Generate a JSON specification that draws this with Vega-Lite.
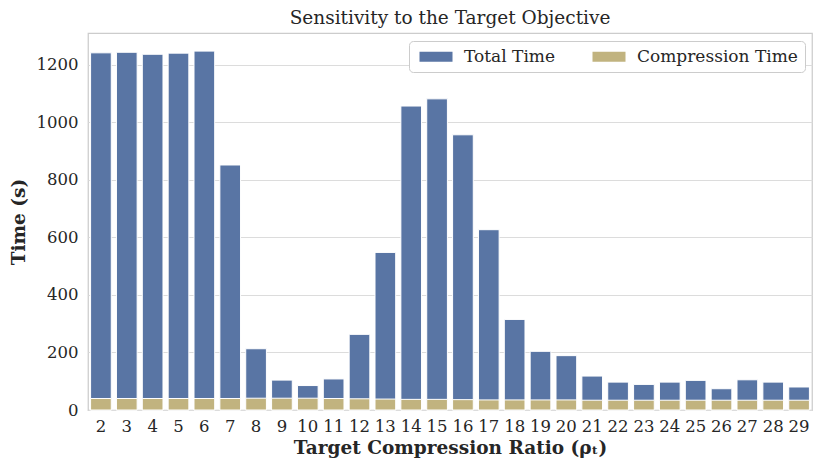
{
  "$schema": "https://vega.github.io/schema/vega-lite/v6.json",
  "width": 724,
  "height": 377,
  "autosize": "none",
  "padding": {"left": 88, "top": 33, "right": 18, "bottom": 65},
  "background": "white",
  "title": {"text": "Sensitivity to the Target Objective", "font": "DejaVu Serif", "fontSize": 18.5, "fontWeight": "normal", "color": "#262626", "offset": 6},
  "config": {
    "view": {"stroke": "#cccccc", "strokeWidth": 1.25},
    "font": "DejaVu Serif",
    "axis": {"labelFont": "DejaVu Serif", "labelFontSize": 16.5, "labelColor": "#262626", "titleFont": "DejaVu Serif", "titleFontSize": 18.5, "titleFontWeight": "bold", "titleColor": "#262626", "domain": false, "ticks": false, "gridColor": "#dcdcdc", "gridWidth": 1.1},
    "legend": {"labelFont": "DejaVu Serif", "labelFontSize": 17, "labelColor": "#262626", "labelLimit": 400}
  },
  "data": {"values": [
    {"ratio": 2, "total": 1242, "comp": 40},
    {"ratio": 3, "total": 1244, "comp": 40},
    {"ratio": 4, "total": 1237, "comp": 40},
    {"ratio": 5, "total": 1241, "comp": 40},
    {"ratio": 6, "total": 1248, "comp": 40},
    {"ratio": 7, "total": 852, "comp": 40},
    {"ratio": 8, "total": 213, "comp": 41},
    {"ratio": 9, "total": 104, "comp": 41},
    {"ratio": 10, "total": 85, "comp": 41},
    {"ratio": 11, "total": 108, "comp": 40},
    {"ratio": 12, "total": 263, "comp": 39},
    {"ratio": 13, "total": 548, "comp": 38},
    {"ratio": 14, "total": 1057, "comp": 37},
    {"ratio": 15, "total": 1082, "comp": 37},
    {"ratio": 16, "total": 957, "comp": 36},
    {"ratio": 17, "total": 627, "comp": 35},
    {"ratio": 18, "total": 315, "comp": 35},
    {"ratio": 19, "total": 204, "comp": 35},
    {"ratio": 20, "total": 189, "comp": 35},
    {"ratio": 21, "total": 118, "comp": 34},
    {"ratio": 22, "total": 97, "comp": 34},
    {"ratio": 23, "total": 89, "comp": 34},
    {"ratio": 24, "total": 97, "comp": 34},
    {"ratio": 25, "total": 103, "comp": 34},
    {"ratio": 26, "total": 74, "comp": 34},
    {"ratio": 27, "total": 105, "comp": 34},
    {"ratio": 28, "total": 97, "comp": 34},
    {"ratio": 29, "total": 80, "comp": 34}
  ]},
  "transform": [
    {"fold": ["total", "comp"], "as": ["key", "time"]},
    {"calculate": "datum.key === 'total' ? 'Total Time' : 'Compression Time'", "as": "series"}
  ],
  "layer": [
    {
      "transform": [{"filter": "datum.key === 'total'"}],
      "mark": {"type": "bar", "stroke": "white", "strokeWidth": 1},
      "encoding": {
        "x": {"field": "ratio", "type": "ordinal", "scale": {"paddingInner": 0.2, "paddingOuter": 0.1}, "axis": {"labelAngle": 0, "labelPadding": 8, "title": "Target Compression Ratio (ρₜ)", "titlePadding": 4}},
        "y": {"field": "time", "type": "quantitative", "stack": null, "scale": {"domain": [0, 1311], "nice": false}, "axis": {"values": [0, 200, 400, 600, 800, 1000, 1200], "format": "d", "title": "Time (s)", "labelPadding": 10, "titlePadding": 8}},
        "color": {"field": "series", "type": "nominal", "scale": {"domain": ["Total Time", "Compression Time"], "range": ["#5975a4", "#c1b37f"]}, "legend": {"title": null, "orient": "none", "legendX": 321, "legendY": 8, "direction": "horizontal", "columns": 2, "symbolType": "M-1,-1L5.6,-1L5.6,1L-1,1Z", "symbolSize": 100, "symbolStrokeWidth": 0, "labelOffset": 31, "columnPadding": 33, "padding": 7, "strokeColor": "#cccccc", "fillColor": "white", "cornerRadius": 4}}
      }
    },
    {
      "transform": [{"filter": "datum.key === 'comp'"}],
      "mark": {"type": "bar", "stroke": "white", "strokeWidth": 1},
      "encoding": {
        "x": {"field": "ratio", "type": "ordinal"},
        "y": {"field": "time", "type": "quantitative", "stack": null},
        "color": {"field": "series", "type": "nominal"}
      }
    }
  ]
}
